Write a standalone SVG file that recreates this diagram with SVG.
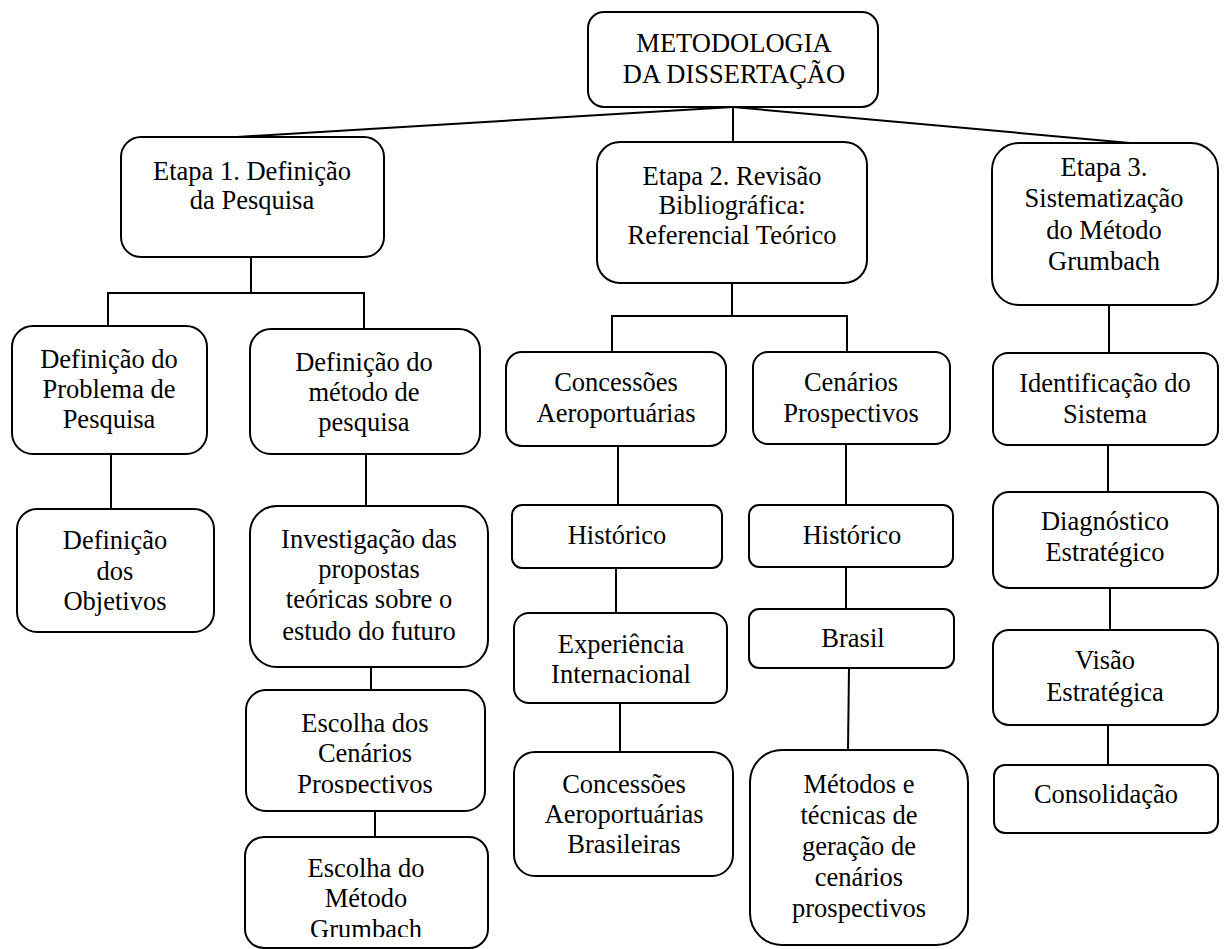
<svg xmlns="http://www.w3.org/2000/svg" width="1224" height="949" viewBox="0 0 1224 949">
<style>
.b{fill:#fff;stroke:#000;stroke-width:2}
.c line{stroke:#000;stroke-width:2}
text{font-family:"Liberation Serif","Times New Roman",serif;font-size:26.5px;fill:#000;text-anchor:middle}
</style>
<defs>
<clipPath id="clipA"><rect x="240" y="690" width="250" height="103.5"/></clipPath>
<clipPath id="clipB"><rect x="240" y="837" width="250" height="100"/></clipPath>
</defs>
<rect width="1224" height="949" fill="#fff"/>
<g class="c" id="connectors">
<line x1="733" y1="107" x2="237" y2="137"/>
<line x1="733" y1="107" x2="733" y2="142"/>
<line x1="733" y1="107" x2="1130" y2="143"/>
<line x1="251" y1="257" x2="251" y2="293"/>
<line x1="107" y1="293" x2="365" y2="293"/>
<line x1="108" y1="293" x2="108" y2="326"/>
<line x1="364" y1="293" x2="364" y2="329"/>
<line x1="111" y1="454" x2="111" y2="509"/>
<line x1="366" y1="454" x2="366" y2="506"/>
<line x1="371" y1="667" x2="371" y2="690"/>
<line x1="375" y1="811" x2="375" y2="837"/>
<line x1="732" y1="283" x2="732" y2="316"/>
<line x1="611" y1="316" x2="848" y2="316"/>
<line x1="612" y1="316" x2="612" y2="352"/>
<line x1="847" y1="316" x2="847" y2="352"/>
<line x1="618" y1="446" x2="618" y2="505"/>
<line x1="616" y1="568" x2="616" y2="613"/>
<line x1="620" y1="703" x2="620" y2="752"/>
<line x1="846" y1="444" x2="846" y2="505"/>
<line x1="846" y1="567" x2="846" y2="609"/>
<line x1="849" y1="668" x2="848" y2="750"/>
<line x1="1109" y1="305" x2="1109" y2="353"/>
<line x1="1108" y1="445" x2="1108" y2="492"/>
<line x1="1110" y1="588" x2="1110" y2="630"/>
<line x1="1108" y1="725" x2="1108" y2="765"/>
</g>
<g id="n-top"><rect class="b" x="588" y="12" width="290" height="95" rx="16"/><text x="734" y="52">METODOLOGIA</text><text x="734" y="83">DA DISSERTAÇÃO</text></g>
<g id="n-etapa1"><rect class="b" x="121" y="137" width="263" height="120" rx="20"/><text x="252" y="180">Etapa 1. Definição</text><text x="252" y="209">da Pesquisa</text></g>
<g id="n-etapa2"><rect class="b" x="597" y="142" width="270" height="141" rx="23"/><text x="732" y="185">Etapa 2. Revisão</text><text x="732" y="214">Bibliográfica:</text><text x="732" y="244">Referencial Teórico</text></g>
<g id="n-etapa3"><rect class="b" x="992" y="143" width="226" height="162" rx="27"/><text x="1104" y="176">Etapa 3.</text><text x="1104" y="207">Sistematização</text><text x="1104" y="239">do Método</text><text x="1104" y="270">Grumbach</text></g>
<g id="n-defprob"><rect class="b" x="12" y="326" width="195" height="128" rx="21"/><text x="109" y="368">Definição do</text><text x="109" y="398">Problema de</text><text x="109" y="428">Pesquisa</text></g>
<g id="n-defobj"><rect class="b" x="17" y="509" width="197" height="123" rx="20"/><text x="115" y="549">Definição</text><text x="115" y="580">dos</text><text x="115" y="610">Objetivos</text></g>
<g id="n-defmet"><rect class="b" x="250" y="329" width="230" height="125" rx="21"/><text x="364" y="371">Definição do</text><text x="364" y="401">método de</text><text x="364" y="431">pesquisa</text></g>
<g id="n-invest"><rect class="b" x="250" y="506" width="238" height="161" rx="27"/><text x="369" y="548">Investigação das</text><text x="369" y="578">propostas</text><text x="369" y="608">teóricas sobre o</text><text x="369" y="640">estudo do futuro</text></g>
<g id="n-escdos"><rect class="b" x="246" y="690" width="239" height="121" rx="20"/><g clip-path="url(#clipA)"><text x="365" y="732">Escolha dos</text><text x="365" y="762">Cenários</text><text x="365" y="793">Prospectivos</text></g></g>
<g id="n-escdo"><rect class="b" x="245" y="837" width="243" height="111" rx="19"/><g clip-path="url(#clipB)"><text x="366" y="877">Escolha do</text><text x="366" y="907">Método</text><text x="366" y="938">Grumbach</text></g></g>
<g id="n-conc"><rect class="b" x="506" y="352" width="220" height="94" rx="16"/><text x="616" y="391">Concessões</text><text x="616" y="422">Aeroportuárias</text></g>
<g id="n-cen"><rect class="b" x="753" y="352" width="197" height="92" rx="15"/><text x="851" y="391">Cenários</text><text x="851" y="422">Prospectivos</text></g>
<g id="n-histL"><rect class="b" x="512" y="505" width="210" height="63" rx="10"/><text x="617" y="544">Histórico</text></g>
<g id="n-histR"><rect class="b" x="749" y="505" width="204" height="62" rx="10"/><text x="852" y="544">Histórico</text></g>
<g id="n-exp"><rect class="b" x="514" y="613" width="213" height="90" rx="15"/><text x="621" y="653">Experiência</text><text x="621" y="683">Internacional</text></g>
<g id="n-brasil"><rect class="b" x="749" y="609" width="205" height="59" rx="10"/><text x="853" y="647">Brasil</text></g>
<g id="n-concbr"><rect class="b" x="514" y="752" width="219" height="124" rx="21"/><text x="624" y="793">Concessões</text><text x="624" y="823">Aeroportuárias</text><text x="624" y="853">Brasileiras</text></g>
<g id="n-metodos"><rect class="b" x="750" y="750" width="218" height="195" rx="32"/><text x="859" y="793">Métodos e</text><text x="859" y="824">técnicas de</text><text x="859" y="855">geração de</text><text x="859" y="886">cenários</text><text x="859" y="917">prospectivos</text></g>
<g id="n-ident"><rect class="b" x="993" y="353" width="225" height="92" rx="15"/><text x="1105" y="392">Identificação do</text><text x="1105" y="423">Sistema</text></g>
<g id="n-diag"><rect class="b" x="993" y="492" width="225" height="96" rx="16"/><text x="1105" y="530">Diagnóstico</text><text x="1105" y="561">Estratégico</text></g>
<g id="n-visao"><rect class="b" x="993" y="630" width="225" height="95" rx="16"/><text x="1105" y="669">Visão</text><text x="1105" y="701">Estratégica</text></g>
<g id="n-cons"><rect class="b" x="994" y="765" width="224" height="68" rx="11"/><text x="1106" y="803">Consolidação</text></g>
</svg>
